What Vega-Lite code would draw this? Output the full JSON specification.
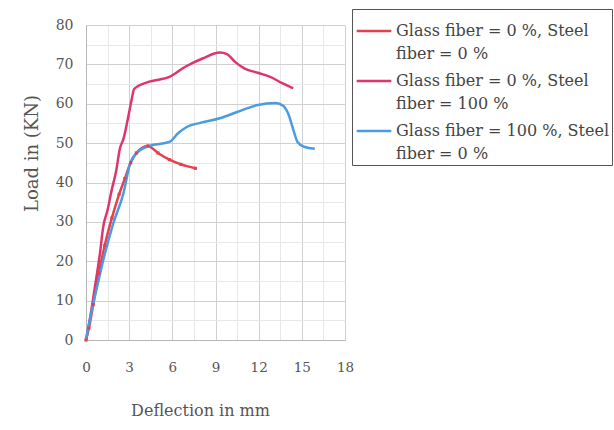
{
  "$schema": "https://vega.github.io/schema/vega-lite/v6.json",
  "width": 259,
  "height": 315,
  "autosize": "none",
  "padding": {"left": 86, "top": 25, "right": 269, "bottom": 90},
  "background": "white",
  "config": {
    "view": {"stroke": null},
    "font": "DejaVu Serif",
    "style": {"guide-label": {"lineHeight": 23}}
  },
  "data": {
    "values": [
      {"s": "Glass fiber = 0 %, Steel fiber = 0 %", "d": 0, "p": 0},
      {"s": "Glass fiber = 0 %, Steel fiber = 0 %", "d": 0.2, "p": 3},
      {"s": "Glass fiber = 0 %, Steel fiber = 0 %", "d": 0.5, "p": 9},
      {"s": "Glass fiber = 0 %, Steel fiber = 0 %", "d": 0.9, "p": 17},
      {"s": "Glass fiber = 0 %, Steel fiber = 0 %", "d": 1.3, "p": 24},
      {"s": "Glass fiber = 0 %, Steel fiber = 0 %", "d": 1.8, "p": 31},
      {"s": "Glass fiber = 0 %, Steel fiber = 0 %", "d": 2.3, "p": 37},
      {"s": "Glass fiber = 0 %, Steel fiber = 0 %", "d": 2.7, "p": 41},
      {"s": "Glass fiber = 0 %, Steel fiber = 0 %", "d": 3.1, "p": 45},
      {"s": "Glass fiber = 0 %, Steel fiber = 0 %", "d": 3.5, "p": 47.5},
      {"s": "Glass fiber = 0 %, Steel fiber = 0 %", "d": 4.3, "p": 49.3},
      {"s": "Glass fiber = 0 %, Steel fiber = 0 %", "d": 5.0, "p": 47.5},
      {"s": "Glass fiber = 0 %, Steel fiber = 0 %", "d": 5.8, "p": 45.8},
      {"s": "Glass fiber = 0 %, Steel fiber = 0 %", "d": 6.6, "p": 44.6},
      {"s": "Glass fiber = 0 %, Steel fiber = 0 %", "d": 7.6, "p": 43.6},
      {"s": "Glass fiber = 0 %, Steel fiber = 100 %", "d": 0, "p": 0},
      {"s": "Glass fiber = 0 %, Steel fiber = 100 %", "d": 0.3, "p": 6},
      {"s": "Glass fiber = 0 %, Steel fiber = 100 %", "d": 0.6, "p": 13},
      {"s": "Glass fiber = 0 %, Steel fiber = 100 %", "d": 0.97, "p": 22},
      {"s": "Glass fiber = 0 %, Steel fiber = 100 %", "d": 1.2, "p": 28.8},
      {"s": "Glass fiber = 0 %, Steel fiber = 100 %", "d": 1.5, "p": 33},
      {"s": "Glass fiber = 0 %, Steel fiber = 100 %", "d": 1.78, "p": 38},
      {"s": "Glass fiber = 0 %, Steel fiber = 100 %", "d": 2.1, "p": 43},
      {"s": "Glass fiber = 0 %, Steel fiber = 100 %", "d": 2.36, "p": 48.7},
      {"s": "Glass fiber = 0 %, Steel fiber = 100 %", "d": 2.6, "p": 51},
      {"s": "Glass fiber = 0 %, Steel fiber = 100 %", "d": 2.9, "p": 56},
      {"s": "Glass fiber = 0 %, Steel fiber = 100 %", "d": 3.17, "p": 61},
      {"s": "Glass fiber = 0 %, Steel fiber = 100 %", "d": 3.35, "p": 63.8},
      {"s": "Glass fiber = 0 %, Steel fiber = 100 %", "d": 4.4, "p": 65.6},
      {"s": "Glass fiber = 0 %, Steel fiber = 100 %", "d": 5.8, "p": 66.8},
      {"s": "Glass fiber = 0 %, Steel fiber = 100 %", "d": 6.9, "p": 69.4},
      {"s": "Glass fiber = 0 %, Steel fiber = 100 %", "d": 8.1, "p": 71.5},
      {"s": "Glass fiber = 0 %, Steel fiber = 100 %", "d": 9.3, "p": 73},
      {"s": "Glass fiber = 0 %, Steel fiber = 100 %", "d": 9.8, "p": 72.6},
      {"s": "Glass fiber = 0 %, Steel fiber = 100 %", "d": 10.4, "p": 70.5},
      {"s": "Glass fiber = 0 %, Steel fiber = 100 %", "d": 11.0, "p": 69},
      {"s": "Glass fiber = 0 %, Steel fiber = 100 %", "d": 12.0, "p": 67.8},
      {"s": "Glass fiber = 0 %, Steel fiber = 100 %", "d": 12.8, "p": 66.8},
      {"s": "Glass fiber = 0 %, Steel fiber = 100 %", "d": 13.6, "p": 65.3},
      {"s": "Glass fiber = 0 %, Steel fiber = 100 %", "d": 14.4, "p": 63.9},
      {"s": "Glass fiber = 100 %, Steel fiber = 0 %", "d": 0, "p": 0},
      {"s": "Glass fiber = 100 %, Steel fiber = 0 %", "d": 0.4, "p": 7.6},
      {"s": "Glass fiber = 100 %, Steel fiber = 0 %", "d": 0.8, "p": 14},
      {"s": "Glass fiber = 100 %, Steel fiber = 0 %", "d": 1.2, "p": 20.3},
      {"s": "Glass fiber = 100 %, Steel fiber = 0 %", "d": 1.9, "p": 29.7},
      {"s": "Glass fiber = 100 %, Steel fiber = 0 %", "d": 2.6, "p": 37.2},
      {"s": "Glass fiber = 100 %, Steel fiber = 0 %", "d": 3.06, "p": 44.8},
      {"s": "Glass fiber = 100 %, Steel fiber = 0 %", "d": 3.5, "p": 47.4},
      {"s": "Glass fiber = 100 %, Steel fiber = 0 %", "d": 4.4, "p": 49.3},
      {"s": "Glass fiber = 100 %, Steel fiber = 0 %", "d": 5.8, "p": 50.3},
      {"s": "Glass fiber = 100 %, Steel fiber = 0 %", "d": 6.4, "p": 52.5},
      {"s": "Glass fiber = 100 %, Steel fiber = 0 %", "d": 7.0, "p": 54.1},
      {"s": "Glass fiber = 100 %, Steel fiber = 0 %", "d": 8.0, "p": 55.2},
      {"s": "Glass fiber = 100 %, Steel fiber = 0 %", "d": 9.3, "p": 56.3},
      {"s": "Glass fiber = 100 %, Steel fiber = 0 %", "d": 10.5, "p": 57.9},
      {"s": "Glass fiber = 100 %, Steel fiber = 0 %", "d": 11.85, "p": 59.6},
      {"s": "Glass fiber = 100 %, Steel fiber = 0 %", "d": 13.2, "p": 60.2},
      {"s": "Glass fiber = 100 %, Steel fiber = 0 %", "d": 13.7, "p": 59.5},
      {"s": "Glass fiber = 100 %, Steel fiber = 0 %", "d": 14.05, "p": 57.5},
      {"s": "Glass fiber = 100 %, Steel fiber = 0 %", "d": 14.4, "p": 53.5},
      {"s": "Glass fiber = 100 %, Steel fiber = 0 %", "d": 14.7, "p": 50.3},
      {"s": "Glass fiber = 100 %, Steel fiber = 0 %", "d": 15.2, "p": 49},
      {"s": "Glass fiber = 100 %, Steel fiber = 0 %", "d": 15.9, "p": 48.6}
    ]
  },
  "layer": [
    {
      "mark": {"type": "line", "interpolate": "monotone", "strokeWidth": 2.5},
      "encoding": {
        "x": {
          "field": "d",
          "type": "quantitative",
          "scale": {"domain": [0, 18], "nice": false},
          "axis": {
            "values": [0, 1.5, 3, 4.5, 6, 7.5, 9, 10.5, 12, 13.5, 15, 16.5, 18],
            "tickCount": 100,
            "format": "d",
            "labelExpr": "datum.value % 3 === 0 ? datum.label : ''",
            "labelOverlap": false,
            "grid": true,
            "gridColor": {"condition": {"test": "datum.value % 3 === 0", "value": "#d0d0d0"}, "value": "#e8e8e8"},
            "gridOpacity": 1,
            "ticks": false,
            "domainColor": "#b5b5b5",
            "labelFlush": false,
            "labelFont": "DejaVu Serif",
            "labelFontSize": 13.5,
            "labelColor": "#555555",
            "labelPadding": 20,
            "title": "Deflection in mm",
            "titleFont": "DejaVu Serif",
            "titleFontWeight": "normal",
            "titleFontSize": 16,
            "titleColor": "#555555",
            "titleX": 114,
            "titleY": 70,
            "titleAlign": "center",
            "titleBaseline": "middle"
          }
        },
        "y": {
          "field": "p",
          "type": "quantitative",
          "scale": {"domain": [0, 80], "nice": false},
          "axis": {
            "values": [0, 5, 10, 15, 20, 25, 30, 35, 40, 45, 50, 55, 60, 65, 70, 75, 80],
            "tickCount": 100,
            "format": "d",
            "labelExpr": "datum.value % 10 === 0 ? datum.label : ''",
            "labelOverlap": false,
            "grid": true,
            "gridColor": {"condition": {"test": "datum.value % 10 === 0", "value": "#d0d0d0"}, "value": "#e8e8e8"},
            "gridOpacity": 1,
            "ticks": false,
            "domainColor": "#b5b5b5",
            "labelFont": "DejaVu Serif",
            "labelFontSize": 14,
            "labelColor": "#555555",
            "labelPadding": 13,
            "title": "Load in (KN)",
            "titleFont": "DejaVu Serif",
            "titleFontWeight": "normal",
            "titleFontSize": 18,
            "titleColor": "#555555",
            "titleAngle": 270,
            "titleX": -54,
            "titleY": 128,
            "titleAlign": "center",
            "titleBaseline": "middle"
          }
        },
        "color": {
          "field": "s",
          "type": "nominal",
          "scale": {
            "domain": ["Glass fiber = 0 %, Steel fiber = 0 %", "Glass fiber = 0 %, Steel fiber = 100 %", "Glass fiber = 100 %, Steel fiber = 0 %"],
            "range": ["#e6404f", "#e0356c", "#4a9be0"]
          },
          "legend": {
            "orient": "none",
            "legendX": 266,
            "legendY": -16,
            "title": null,
            "labelFont": "DejaVu Serif",
            "labelFontSize": 16,
            "labelColor": "#444444",
            "labelLimit": 500,
            "labelOffset": 3,
            "labelExpr": "[substring(datum.label, 0, indexof(datum.label, 'Steel') + 5), substring(datum.label, indexof(datum.label, 'Steel') + 6)]",
            "symbolType": "stroke",
            "symbolSize": 1200,
            "symbolStrokeWidth": 2.5,
            "strokeColor": "#555555",
            "fillColor": "white",
            "padding": 3,
            "rowPadding": -7
          }
        }
      }
    },
    {
      "transform": [{"filter": "datum.s === 'Glass fiber = 0 %, Steel fiber = 0 %'"}],
      "mark": {"type": "point", "shape": "square", "filled": true, "size": 10, "color": "#e6404f", "opacity": 1},
      "encoding": {
        "x": {"field": "d", "type": "quantitative"},
        "y": {"field": "p", "type": "quantitative"}
      }
    }
  ]
}
